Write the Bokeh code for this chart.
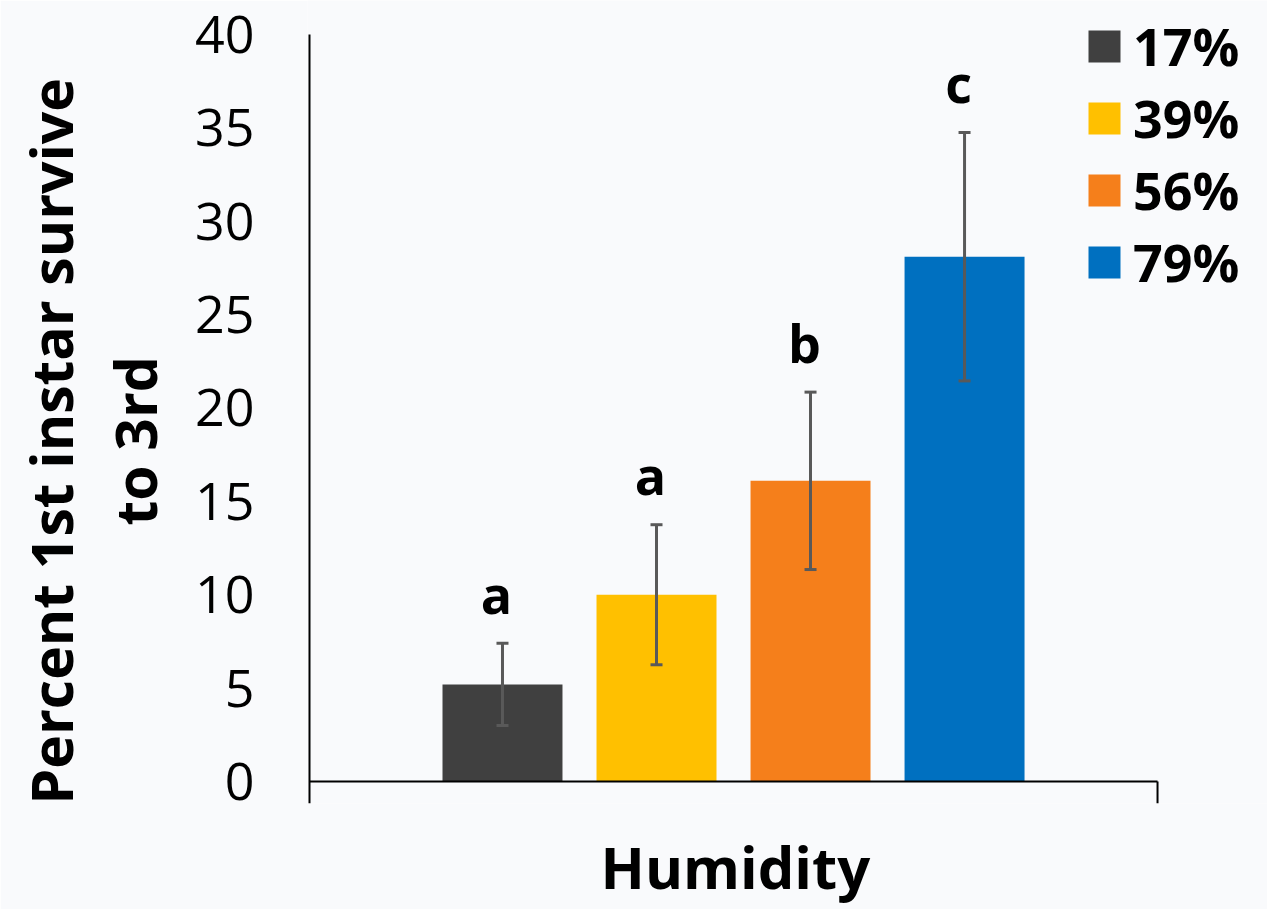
from bokeh.plotting import figure
from bokeh.models import (ColumnDataSource, Range1d, FixedTicker, Whisker, TeeHead,
                          Legend, LegendItem, Title)
from bokeh.core.properties import value
from bokeh.embed import file_html
from bokeh.resources import INLINE

# Survival of 1st instars to 3rd instar at four humidity levels
humidity = ["17%", "39%", "56%", "79%"]
survival = [5.2, 10.0, 16.1, 28.1]
std_err = [2.2, 3.75, 4.75, 6.65]
letters = ["a", "a", "b", "c"]
colors = ["#404040", "#FFC000", "#F57F1B", "#0070C0"]
y_ticks = [0, 5, 10, 15, 20, 25, 30, 35, 40]
y_max = 40
y_title = ["Percent 1st instar survive", "to 3rd"]
x_title = "Humidity"

FONT = "Open Sans"
BG = "#F9FAFC"
AXIS_W = 2

# bars sit side by side inside the single "Humidity" group
pos = [i - (len(humidity) - 1) / 2 for i in range(len(humidity))]
half_span = 2.753      # group extent either side of its centre
left_pad = 0.013       # keeps the drawn y axis line clear of the frame edge
right_pad = 0.714      # room kept right of the group for the legend
bar_width = 0.779
tick_drop = 1.178      # boundary ticks hang this far below zero
top_pad = 1.82         # headroom above the axis for the legend

src = ColumnDataSource(dict(
    x=pos, top=survival, hum=humidity, color=colors, letter=letters,
    upper=[m + e for m, e in zip(survival, std_err)],
    lower=[m - e for m, e in zip(survival, std_err)],
))

p = figure(width=1267, height=909, output_backend="svg", toolbar_location=None,
           x_range=Range1d(-half_span - left_pad, half_span + right_pad),
           y_range=Range1d(-tick_drop, y_max + top_pad),
           min_border_left=307, min_border_right=0, min_border_top=0,
           min_border_bottom=106)
p.background_fill_color = BG
p.border_fill_color = BG
p.outline_line_color = None
p.xgrid.visible = False
p.ygrid.visible = False

bars = p.vbar(x="x", top="top", width=bar_width, bottom=0, color="color",
              line_color=None, source=src)

# axis lines: value axis, category axis at zero and the closing boundary tick
p.segment(x0=[-half_span, -half_span, half_span],
          y0=[-tick_drop, 0, 0],
          x1=[-half_span, half_span, half_span],
          y1=[y_max, 0, -tick_drop],
          line_color="black", line_width=AXIS_W)

whisk = Whisker(base="x", upper="upper", lower="lower", source=src, level="overlay",
                line_color="#595959", line_width=3,
                upper_head=TeeHead(size=12, line_color="#595959", line_width=3),
                lower_head=TeeHead(size=12, line_color="#595959", line_width=3))
p.add_layout(whisk)

p.text(x="x", y="upper", text="letter", source=src, text_font=value(FONT),
       text_font_style="bold", text_font_size="52px", text_color="black",
       text_align="center", text_baseline="alphabetic", x_offset=-6, y_offset=-50)

# y axis: labels only, its line is drawn above
ya = p.yaxis[0]
ya.ticker = FixedTicker(ticks=y_ticks)
ya.minor_tick_line_color = None
ya.major_tick_line_color = None
ya.major_tick_out = 0
ya.major_tick_in = 0
ya.axis_line_color = None
ya.major_label_text_font = FONT
ya.major_label_text_font_size = "52px"
ya.major_label_text_color = "black"
ya.major_label_standoff = 53
ya.axis_label = " "
ya.axis_label_text_font_size = "1px"
ya.axis_label_standoff = 12

# two-line y title, each line centred on the same height
line_offsets = [-1, 278]
for txt, off in reversed(list(zip(y_title, line_offsets))):
    p.add_layout(Title(text=txt, align="left", offset=off, standoff=4,
                       vertical_align="bottom", text_font=FONT,
                       text_font_style="bold", text_font_size="57px",
                       text_color="black"), "left")

# x axis only reserves a gap; its title sits under the bar group
xa = p.xaxis[0]
xa.ticker = FixedTicker(ticks=[])
xa.axis_line_color = None
xa.major_tick_line_color = None
xa.minor_tick_line_color = None
xa.major_tick_out = 0
xa.major_label_text_font_size = "1px"
xa.major_label_standoff = 0
xa.axis_label = " "
xa.axis_label_text_font_size = "1px"
xa.axis_label_standoff = 19

p.add_layout(Title(text=x_title, align="left", offset=293, standoff=0,
                   vertical_align="top", text_font=FONT, text_font_style="bold",
                   text_font_size="58px", text_color="black"), "below")

items = [LegendItem(label=h, renderers=[bars], index=i) for i, h in enumerate(humidity)]
legend = Legend(items=items, location=(777, 506), padding=0, margin=0, spacing=1,
                glyph_width=40, glyph_height=40, label_standoff=9,
                label_text_font=FONT, label_text_font_style="bold",
                label_text_font_size="52px", label_text_color="black",
                background_fill_alpha=0, border_line_color=None)
p.add_layout(legend)

open("out.html", "w").write(file_html(p, INLINE))
